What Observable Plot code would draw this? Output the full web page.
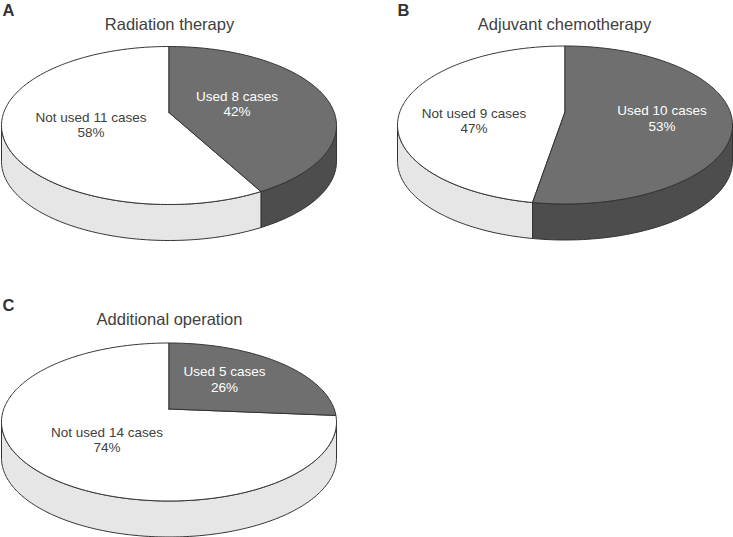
<!DOCTYPE html>
<html>
<head>
<meta charset="utf-8">
<script src="https://cdn.jsdelivr.net/npm/d3@7"></script>
<script src="https://cdn.jsdelivr.net/npm/@observablehq/plot@0.6"></script>
<style>
  html, body { margin: 0; padding: 0; background: #fff; }
  svg { display: block; }
</style>
</head>
<body>
<div id="chart"></div>
<script>
// Data
const panels = ["A", "B", "C"];
const titles = ["Radiation therapy", "Adjuvant chemotherapy", "Additional operation"];
const usedCases = [8, 10, 5];
const notUsedCases = [11, 9, 14];
const usedPct = [42, 53, 26];
const notUsedPct = [58, 47, 74];

// Layout of each panel (pixels in a 733x537 frame)
const layout = [
  {cx: 168.5, cy: 125, letter: [8, 10],  title: [169, 24], used: [68, -22], not: [-78, -1]},
  {cx: 564.5, cy: 124.5, letter: [403, 10], title: [564, 24], used: [97, -7], not: [-91, -4.5]},
  {cx: 168.5, cy: 421.5, letter: [8, 305], title: [169, 319], used: [55.5, -43], not: [-62, 17.5]}
];
const rx = 167.5;
const ry = 79;
const depth = 36;
const tilt = 13 / 79; // perspective shift of the pie centre towards the far edge

// Perspective map from a disc angle (clockwise from 12 o'clock) to pie-top offset
function project(deg) {
  const a = deg * Math.PI / 180;
  const X = Math.sin(a), Y = -Math.cos(a);
  const w = 1 - tilt * Y;
  return [rx * X * Math.sqrt(1 - tilt * tilt) / w, ry * (Y - tilt) / w];
}
const apexOffset = [0, -tilt * ry];
// disc angle of the ellipse's widest points: rim is visible below them
const rimStart = Math.acos(-tilt) * 180 / Math.PI;
const rimEnd = 360 - rimStart;

function arc(d0, d1) {
  const n = Math.max(2, Math.ceil(Math.abs(d1 - d0)));
  return d3.range(n + 1).map(i => project(d0 + (d1 - d0) * i / n));
}

const shapes = [];
function addShape(id, tone, pts, p) {
  pts.forEach(([x, y]) => shapes.push({id, tone, x: p.cx + x, y: p.cy + y}));
}

panels.forEach((name, i) => {
  const p = layout[i];
  const split = usedCases[i] / (usedCases[i] + notUsedCases[i]) * 360;
  // rim: the visible part of each slice
  const rims = [
    ["usedSide", Math.max(0, rimStart), split],
    ["notSide", Math.max(split, rimStart), rimEnd]
  ];
  rims.forEach(([tone, a, b]) => {
    if (b <= a) return;
    const top = arc(a, b);
    const bottom = top.map(([x, y]) => [x, y + depth]).reverse();
    addShape(name + tone, tone, [...top, ...bottom, top[0]], p);
  });
  // top face
  addShape(name + "notTop", "notTop", [apexOffset, ...arc(split, 360), apexOffset], p);
  addShape(name + "usedTop", "usedTop", [apexOffset, ...arc(0, split), apexOffset], p);
});

const titleRows = panels.map((name, i) => ({text: titles[i], x: layout[i].title[0], y: layout[i].title[1]}));
const letterRows = panels.map((name, i) => ({text: name, x: layout[i].letter[0], y: layout[i].letter[1]}));
const notRows = panels.map((name, i) => ({
  text: `Not used ${notUsedCases[i]} cases\n${notUsedPct[i]}%`,
  x: layout[i].cx + layout[i].not[0], y: layout[i].cy + layout[i].not[1]
}));
const usedRows = panels.map((name, i) => ({
  text: `Used ${usedCases[i]} cases\n${usedPct[i]}%`,
  x: layout[i].cx + layout[i].used[0], y: layout[i].cy + layout[i].used[1]
}));

const font = '"Liberation Sans", Arial, sans-serif';
const chart = Plot.plot({
  width: 733,
  height: 537,
  margin: 0,
  style: {background: "#fff", fontFamily: font},
  x: {domain: [0, 733], range: [0, 733], axis: null},
  y: {domain: [0, 537], range: [0, 537], axis: null},
  color: {
    domain: ["usedTop", "notTop", "usedSide", "notSide"],
    range: ["#6f6f6f", "#ffffff", "#4d4d4d", "#e6e6e6"]
  },
  marks: [
    Plot.line(shapes, {
      x: "x", y: "y", z: "id", fill: "tone",
      stroke: "#333333", strokeWidth: 1, strokeLinejoin: "round"
    }),
    Plot.text(titleRows, {x: "x", y: "y", text: "text", fontSize: 16.5, fill: "#404040"}),
    Plot.text(letterRows, {x: "x", y: "y", text: "text", fontSize: 16.5, fontWeight: "bold", fill: "#333333"}),
    Plot.text(notRows, {x: "x", y: "y", text: "text", fontSize: 13.5, lineHeight: 1.17, fill: "#404040"}),
    Plot.text(usedRows, {x: "x", y: "y", text: "text", fontSize: 13.5, lineHeight: 1.17, fill: "#ffffff"})
  ]
});
document.getElementById("chart").appendChild(chart);
</script>
</body>
</html>
